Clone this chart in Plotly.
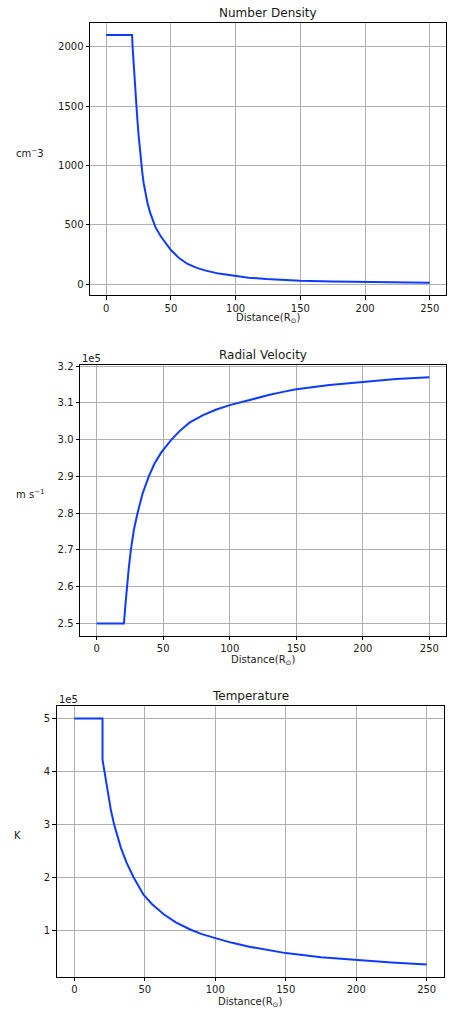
import plotly.graph_objects as go

# Radial profiles of the solar wind model
# distance in solar radii
density_r = [0, 20, 20.4, 21, 22, 23, 24, 25, 26, 27, 28, 29, 30, 32, 34, 36, 38, 42, 46, 50,
             56, 62.9, 70, 77, 87, 97.7, 110, 123.6, 137, 150, 175, 200, 225, 250]
density = [2100, 2100, 2000, 1885, 1715, 1555, 1400, 1260, 1132, 1022, 928, 848, 780, 680,
           600, 535, 482, 405, 342, 287, 222, 169, 136, 113, 88, 70, 54, 42, 34, 28, 22, 17,
           13, 10]

velocity_r = [0, 20, 20.5, 21.5, 22.7, 24, 25.7, 28, 30.7, 34.5, 39.2, 43.5, 48.7, 56.2,
              62.5, 70, 80, 90, 100, 110, 120, 130, 140, 150, 175, 200, 225, 250]
velocity = [250000, 250000, 250000, 254500, 260000, 264500, 270000, 275500, 280000, 285300,
            290000, 293500, 296600, 300000, 302400, 304700, 306700, 308200, 309400, 310400,
            311300, 312200, 313000, 313700, 314900, 315800, 316500, 317000]

temperature_r = [0, 20, 20, 22, 24, 26, 28.3, 30.2, 33, 37, 42, 49.1, 55, 63.2, 72, 82.2, 90,
                 100, 112, 125, 137, 150, 175, 200, 225, 250]
temperature = [500000, 500000, 422000, 387000, 355000, 326000, 299000, 280000, 256000,
               228000, 200000, 167000, 149500, 130500, 114800, 101300, 93000, 85000, 76000,
               68300, 62000, 56600, 49000, 43700, 39000, 35000]

x_tick_vals = [0, 50, 100, 150, 200, 250]
x_tick_text = ["0", "50", "100", "150", "200", "250"]
density_tick_vals = [0, 500, 1000, 1500, 2000]
density_tick_text = ["0", "500", "1000", "1500", "2000"]
velocity_tick_vals = [250000, 260000, 270000, 280000, 290000, 300000, 310000, 320000]
velocity_tick_text = ["2.5", "2.6", "2.7", "2.8", "2.9", "3.0", "3.1", "3.2"]
temperature_tick_vals = [100000, 200000, 300000, 400000, 500000]
temperature_tick_text = ["1", "2", "3", "4", "5"]

W, H = 450, 1012
LINE = "#0f3bff"
FONT = "DejaVu Sans"
TXT = "#1a1a1a"
TICK_SIZE = 10
TITLE_SIZE = 12

fig = go.Figure()
fig.add_trace(go.Scatter(x=density_r, y=density, mode="lines",
                         line=dict(color=LINE, width=2), xaxis="x", yaxis="y"))
fig.add_trace(go.Scatter(x=velocity_r, y=velocity, mode="lines",
                         line=dict(color=LINE, width=2), xaxis="x2", yaxis="y2"))
fig.add_trace(go.Scatter(x=temperature_r, y=temperature, mode="lines",
                         line=dict(color=LINE, width=2), xaxis="x3", yaxis="y3"))


def px_dom(a, b, total):
    return [a / total, b / total]


def py_dom(top, bottom):
    return [1 - bottom / H, 1 - top / H]


def pad_range(vals, frac=0.05):
    lo, hi = min(vals), max(vals)
    span = hi - lo
    return [lo - frac * span, hi + frac * span]


axis_common = dict(showline=True, linecolor="#000000", linewidth=1, mirror=True,
                   ticks="outside", ticklen=3.5, tickwidth=0.8, tickcolor="#000000",
                   showgrid=True, gridcolor="#b0b0b0", gridwidth=0.8, zeroline=False,
                   tickfont=dict(family=FONT, size=TICK_SIZE, color=TXT))

panels = [
    # (x domain px, top, bottom, y ticks, y labels, y data)
    ((90, 446), 18.7, 292.4, density_tick_vals, density_tick_text, density),
    ((80, 446), 362.3, 634.3, velocity_tick_vals, velocity_tick_text, velocity),
    ((56.7, 444.3), 705, 976.7, temperature_tick_vals, temperature_tick_text, temperature),
]

layout = dict(width=W, height=H, margin=dict(l=0, r=0, t=0, b=0),
              plot_bgcolor="white", paper_bgcolor="white", showlegend=False,
              font=dict(family=FONT, color=TXT, size=TICK_SIZE))

for i, (xd, top, bottom, tv, tt, ydata) in enumerate(panels, start=1):
    sx = "" if i == 1 else str(i)
    layout["xaxis" + sx] = dict(axis_common, domain=px_dom(xd[0], xd[1], W),
                                range=[-12.5, 262.5], tickvals=x_tick_vals,
                                ticktext=x_tick_text, anchor="y" + sx)
    layout["yaxis" + sx] = dict(axis_common, domain=py_dom(top, bottom),
                                range=pad_range(ydata), tickvals=tv, ticktext=tt,
                                anchor="x" + sx)

fig.update_layout(**layout)

annotations = []


def text(x, y, s, size, xanchor="center", yanchor="middle"):
    annotations.append(dict(x=x / W, y=1 - y / H, xref="paper", yref="paper", text=s,
                            showarrow=False, xanchor=xanchor, yanchor=yanchor,
                            font=dict(family=FONT, size=size, color=TXT)))


# titles
text(268, 9.5, "Number Density", TITLE_SIZE)
text(263, 352, "Radial Velocity", TITLE_SIZE)
text(250, 695, "Temperature", TITLE_SIZE)

# x-axis labels
text(268, 316, "Distance(R<sub>⊙</sub>)", TICK_SIZE)
text(263, 659, "Distance(R<sub>⊙</sub>)", TICK_SIZE)
text(250, 1002, "Distance(R<sub>⊙</sub>)", TICK_SIZE)

# y-axis labels
text(14, 150, "cm<sup>−</sup>3", TICK_SIZE, xanchor="left")
text(14, 492, "m s<sup>−1</sup>", TICK_SIZE, xanchor="left")
text(12, 835, "K", TICK_SIZE, xanchor="left")

# offset multipliers
text(80, 355.5, "1e5", TICK_SIZE, xanchor="left")
text(56.5, 698, "1e5", TICK_SIZE, xanchor="left")

fig.update_layout(annotations=annotations)

fig.write_html("out.html")
